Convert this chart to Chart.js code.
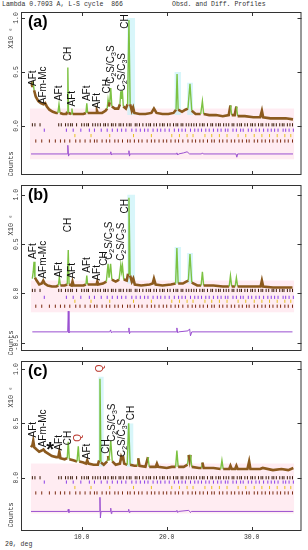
<!DOCTYPE html>
<html>
<head>
<meta charset="utf-8">
<script src="https://cdn.jsdelivr.net/npm/chart.js@4.4.1/dist/chart.umd.min.js"></script>
<style>
  body { margin: 0; background: #fff; width: 308px; height: 550px; position: relative; overflow: hidden; }
  canvas { position: absolute; left: 0; }
  .mono { position: absolute; font-family: "Liberation Mono", monospace; font-size: 6.5px; line-height: 8px; color: #333; white-space: pre; }
</style>
</head>
<body>
<div class="mono" style="left:2px;top:1px">Lambda 0.7093 A, L-S cycle  866</div>
<div class="mono" style="left:172px;top:1px">Obsd. and Diff. Profiles</div>
<div class="mono" style="left:5px;top:541px">2θ, deg</div>
<canvas id="panelA" width="308" height="180" style="top:0px"></canvas>
<canvas id="panelB" width="308" height="176" style="top:180px"></canvas>
<canvas id="panelC" width="308" height="194" style="top:356px"></canvas>
<script>
// 2-theta axis and intensity ticks (x10^6 counts)
const xMin = 2.86, xMax = 35.86;
const xTickVals = [10, 20, 30];
const yTickVals = [-0.5, 0.0, 0.5, 1.0];

// observed / calculated profiles, [2theta, counts x10^6]
const profileA = [[4.04,0.37],[4.15,0.39],[4.27,0.41],[4.4,0.33],[4.6,0.27],[4.9,0.23],[5.2,0.21],[5.5,0.2],[5.7,0.21],[5.9,0.18],[6.2,0.15],[6.6,0.13],[7.0,0.12],[7.2,0.12],[7.33,0.2],[7.45,0.12],[7.8,0.11],[8.2,0.11],[8.3,0.13],[8.37,0.54],[8.45,0.12],[8.75,0.11],[8.85,0.16],[8.95,0.11],[9.4,0.11],[9.8,0.11],[10.2,0.11],[10.5,0.12],[10.6,0.21],[10.7,0.12],[11.2,0.12],[11.7,0.12],[11.8,0.14],[11.9,0.12],[12.4,0.12],[12.8,0.14],[13.0,0.16],[13.1,0.24],[13.2,0.18],[13.3,0.22],[13.42,0.35],[13.55,0.18],[13.9,0.16],[14.3,0.16],[14.5,0.2],[14.6,0.32],[14.68,0.25],[14.78,0.33],[14.9,0.18],[15.2,0.16],[15.4,0.2],[15.56,0.98],[15.7,0.2],[15.9,0.14],[16.05,0.17],[16.2,0.12],[16.8,0.11],[17.5,0.11],[18.2,0.12],[18.5,0.16],[18.8,0.12],[19.5,0.11],[20.2,0.11],[20.8,0.12],[21.1,0.15],[21.22,0.48],[21.35,0.15],[21.8,0.13],[22.2,0.15],[22.5,0.16],[22.74,0.39],[22.95,0.14],[23.4,0.11],[24.0,0.11],[24.2,0.23],[24.35,0.11],[25.0,0.1],[25.8,0.1],[26.6,0.09],[27.3,0.1],[27.5,0.19],[27.65,0.1],[28.0,0.1],[28.2,0.18],[28.35,0.09],[29.2,0.09],[30.2,0.08],[31.0,0.08],[31.2,0.14],[31.35,0.08],[32.2,0.07],[33.2,0.07],[34.0,0.07],[34.86,0.06]];
const profileB = [[4.19,0.15],[4.3,0.22],[4.39,0.32],[4.5,0.16],[4.7,0.13],[5.0,0.09],[5.3,0.1],[5.48,0.13],[5.65,0.1],[6.0,0.08],[6.5,0.07],[7.0,0.07],[7.25,0.08],[7.37,0.16],[7.5,0.08],[8.0,0.08],[8.3,0.09],[8.42,0.44],[8.52,0.09],[8.8,0.08],[8.92,0.12],[9.05,0.08],[9.6,0.08],[10.2,0.08],[10.5,0.09],[10.6,0.18],[10.7,0.09],[11.3,0.09],[11.75,0.09],[11.84,0.12],[11.95,0.09],[12.5,0.1],[12.9,0.12],[13.1,0.3],[13.22,0.16],[13.4,0.3],[13.55,0.14],[14.0,0.12],[14.4,0.14],[14.6,0.29],[14.7,0.22],[14.8,0.28],[14.95,0.14],[15.3,0.13],[15.45,0.2],[15.56,0.97],[15.7,0.18],[15.9,0.12],[16.07,0.15],[16.25,0.09],[17.0,0.08],[18.0,0.09],[18.35,0.1],[18.5,0.15],[18.7,0.09],[19.5,0.08],[20.5,0.09],[21.05,0.1],[21.2,0.46],[21.35,0.1],[21.9,0.1],[22.3,0.12],[22.55,0.13],[22.74,0.4],[22.95,0.11],[23.6,0.08],[24.05,0.08],[24.2,0.22],[24.35,0.08],[25.5,0.08],[26.6,0.07],[27.35,0.07],[27.5,0.18],[27.65,0.07],[28.05,0.07],[28.2,0.16],[28.35,0.07],[29.5,0.07],[30.5,0.07],[31.05,0.07],[31.2,0.13],[31.35,0.07],[32.5,0.06],[33.6,0.06],[34.8,0.06]];
const profileC = [[4.04,0.28],[4.2,0.3],[4.3,0.34],[4.42,0.28],[4.7,0.26],[5.0,0.24],[5.3,0.25],[5.5,0.26],[5.7,0.24],[6.1,0.22],[6.5,0.2],[7.0,0.19],[7.25,0.19],[7.37,0.24],[7.5,0.18],[8.0,0.17],[8.3,0.18],[8.42,0.33],[8.55,0.17],[9.0,0.16],[9.45,0.15],[9.6,0.29],[9.72,0.15],[10.2,0.14],[10.5,0.13],[10.65,0.16],[10.8,0.13],[11.4,0.12],[11.9,0.12],[12.05,0.16],[12.15,0.91],[12.27,0.14],[12.6,0.12],[13.0,0.15],[13.1,0.2],[13.22,0.16],[13.42,0.34],[13.6,0.15],[14.0,0.12],[14.5,0.13],[14.65,0.19],[14.75,0.17],[14.85,0.2],[15.0,0.13],[15.35,0.12],[15.53,0.5],[15.7,0.12],[16.2,0.11],[16.55,0.11],[16.65,0.18],[16.8,0.11],[17.5,0.1],[17.8,0.19],[17.95,0.1],[18.7,0.1],[18.85,0.13],[19.0,0.1],[20.0,0.09],[20.6,0.1],[21.05,0.1],[21.2,0.25],[21.35,0.1],[22.0,0.1],[22.45,0.12],[22.58,0.21],[22.7,0.16],[22.8,0.21],[22.95,0.1],[23.8,0.09],[24.1,0.09],[24.2,0.14],[24.35,0.09],[25.5,0.09],[26.35,0.08],[26.5,0.16],[26.65,0.08],[27.35,0.08],[27.5,0.11],[27.65,0.08],[28.05,0.08],[28.2,0.11],[28.35,0.08],[29.5,0.08],[29.7,0.15],[29.85,0.08],[31.0,0.08],[31.3,0.09],[32.5,0.07],[33.5,0.08],[34.3,0.07],[34.9,0.09]];

// difference curves (obs - calc, offset)
const diffA = [[4.04,-0.26],[8.3,-0.26],[8.37,-0.18],[8.45,-0.28],[8.55,-0.26],[13.35,-0.26],[13.42,-0.24],[13.5,-0.27],[13.6,-0.26],[15.5,-0.26],[15.56,-0.23],[15.62,-0.28],[15.7,-0.26],[21.1,-0.26],[21.2,-0.25],[21.3,-0.27],[21.4,-0.26],[22.0,-0.25],[22.4,-0.24],[22.7,-0.26],[24.1,-0.26],[24.2,-0.25],[24.3,-0.26],[28.15,-0.26],[28.25,-0.29],[28.35,-0.26],[34.86,-0.26]];
const diffB = [[4.19,-0.39],[8.35,-0.39],[8.42,-0.18],[8.5,-0.4],[8.6,-0.39],[13.3,-0.39],[13.4,-0.37],[13.5,-0.4],[13.6,-0.39],[15.5,-0.39],[15.56,-0.35],[15.62,-0.41],[15.7,-0.39],[21.1,-0.39],[21.2,-0.35],[21.3,-0.4],[21.4,-0.39],[22.5,-0.38],[22.7,-0.36],[22.8,-0.43],[22.95,-0.39],[34.8,-0.39]];
const diffC = [[4.04,-0.31],[8.35,-0.31],[8.42,-0.29],[8.5,-0.32],[8.6,-0.31],[12.1,-0.31],[12.15,-0.18],[12.2,-0.37],[12.28,-0.31],[13.35,-0.31],[13.42,-0.28],[13.48,-0.33],[13.55,-0.31],[15.48,-0.31],[15.53,-0.29],[15.6,-0.32],[15.68,-0.31],[21.15,-0.31],[21.2,-0.3],[21.3,-0.32],[21.4,-0.31],[22.6,-0.3],[22.8,-0.32],[22.9,-0.31],[34.9,-0.31]];

// reflection tick positions for the refined phases (2theta)
const reflBlack = [4.2,4.5,5.1,7.3,7.6,8.1,8.4,8.7,8.9,9.4,10.0,10.3,10.6,10.8,11.3,11.6,11.9,12.2,12.6,12.8,13.1,13.5,13.7,14.0,14.4,14.6,14.9,15.3,15.6,15.8,16.3,16.5,16.8,17.2,17.6,17.9,18.1,18.5,18.8,19.2,19.5,19.7,20.1,20.4,20.8,21.1,21.3,21.7,21.9,22.3,22.6,22.9,23.2,23.5,23.9,24.2,24.4,24.8,25.2,25.4,25.8,26.1,26.3,26.7,27.0,27.3,27.7,27.9,28.3,28.6,28.8,29.2,29.5,29.9,30.1,30.4,30.8,31.1,31.3,31.7,32.0,32.4,32.6,32.9,33.3,33.6,33.8,34.2,34.5,34.8];
const reflPurple = [5.6,8.2,9.0,9.9,10.9,11.5,12.3,13.0,13.6,14.2,14.7,15.2,15.9,16.4,16.9,17.4,17.8,18.4,18.9,19.3,19.8,20.3,20.9,21.4,21.8,22.2,22.8,23.3,23.7,24.1,24.6,25.0,25.5,26.0,26.4,26.9,27.2,27.8,28.2,28.7,29.0,29.6,30.0,30.5,30.9,31.4,31.9,32.3,32.7,33.1,33.7,34.0,34.4,34.9];
const reflYellow = [9.2,11.1,13.3,16.1,18.2,20.6,21.5,22.4,23.1,24.5,25.3,26.2,27.1,28.4,29.3,30.3,31.2,32.1,33.0,33.9,34.6];
const reflBrown = [4.6,5.3,6.2,6.9,7.5,8.0,8.6,9.3,9.8,10.4,11.0,11.5,11.8,12.4,12.9,13.3,13.9,14.3,14.8,15.4,15.7,16.2,16.7,17.1,17.7,18.2,18.6,19.1,19.6,20.0,20.5,21.0,21.4,21.9,22.5,23.0,23.4,23.9,24.3,24.8,25.3,25.6,26.2,26.6,27.1,27.6,28.0,28.5,28.9,29.4,29.7,30.3,30.7,31.2,31.6,32.1,32.5,33.0,33.4,33.9,34.3,34.8];

// phase labels: [2theta, counts, text]  (_ = subscript)
const labelsA = [[4.3,0.37,'AFt'],[5.5,0.2,'AFm-Mc'],[7.37,0.23,'AFt'],[8.42,0.6,'CH'],[8.9,0.18,'AFt'],[10.6,0.23,'AFt'],[11.8,0.16,'AFt'],[13.0,0.3,'CH'],[13.45,0.39,'C_2S/C_3S'],[14.8,0.32,'C_2S/C_3S'],[15.1,0.9,'CH']];
const labelsB = [[4.3,0.35,'AFt'],[5.5,0.15,'AFm-Mc'],[7.37,0.16,'AFt'],[8.42,0.62,'CH'],[8.94,0.15,'AFt'],[10.6,0.21,'AFt'],[11.84,0.13,'AFt'],[12.7,0.28,'CH'],[13.2,0.34,'C_2S/C_3S'],[14.6,0.33,'C_2S/C_3S'],[15.1,0.81,'CH']];
const labelsC = [[4.3,0.37,'AFt'],[5.5,0.28,'AFm-Mc'],[7.37,0.25,'AFt'],[8.42,0.3,'CH'],[9.6,0.33,'Q'],[10.65,0.17,'AFt'],[12.15,0.97,'Q'],[12.9,0.22,'CH'],[13.6,0.33,'C_2S/C_3S'],[14.8,0.19,'C_2S/C_3S'],[15.8,0.53,'CH']];

const brown = '#8c5a1e';
const green = '#7cc242';

function steep(c) {
  const dx = c.p1.parsed.x - c.p0.parsed.x;
  return Math.abs((c.p1.parsed.y - c.p0.parsed.y) / dx) > 0.5;
}

function toPts(arr) { return arr.map(p => ({ x: p[0], y: p[1] })); }

function tickRow(pos, yv, color, order) {
  return {
    data: pos.map(v => ({ x: v, y: yv })),
    showLine: false, pointStyle: 'line', pointRotation: 90, pointRadius: 1.6,
    pointBorderColor: color, pointBorderWidth: 1, order: order
  };
}

function band(x0, x1, top, bottom, color, order) {
  return {
    data: [{ x: x0, y: top }, { x: x1, y: top }],
    borderWidth: 0, pointRadius: 0, backgroundColor: color,
    fill: { value: bottom }, order: order
  };
}

function richText(ctx, text, size) {
  let cx = 0;
  for (let i = 0; i < text.length; i++) {
    let ch = text[i], sub = false;
    if (ch === '_') { ch = text[++i]; sub = true; }
    ctx.font = (sub ? size * 0.7 : size) + 'px "Liberation Sans", Arial, sans-serif';
    ctx.fillText(ch, cx, sub ? size * 0.28 : 0);
    cx += ctx.measureText(ch).width;
  }
}

const decor = {
  id: 'decor',
  afterDatasetsDraw(chart, args, o) {
    const { ctx, chartArea: a, scales: { x, y } } = chart;
    ctx.save();
    ctx.strokeStyle = '#333';
    ctx.lineWidth = 1;
    ctx.strokeRect(a.left + 0.5, a.top + 0.5, a.width - 1, a.height - 1);
    ctx.beginPath();
    xTickVals.forEach(v => {
      const px = Math.round(x.getPixelForValue(v)) + 0.5;
      ctx.moveTo(px, a.top); ctx.lineTo(px, a.top + 4);
      ctx.moveTo(px, a.bottom); ctx.lineTo(px, a.bottom - 4);
    });
    const yt = yTickVals.filter(v => v >= y.min && v <= y.max);
    yt.forEach(v => {
      const py = Math.round(y.getPixelForValue(v)) + 0.5;
      ctx.moveTo(a.left, py); ctx.lineTo(a.left + 4, py);
      ctx.moveTo(a.right, py); ctx.lineTo(a.right - 4, py);
    });
    ctx.stroke();

    // rotated y tick labels and axis titles
    ctx.fillStyle = '#333';
    ctx.textAlign = 'center';
    ctx.textBaseline = 'middle';
    ctx.font = '6.5px "Liberation Mono", monospace';
    yt.forEach(v => {
      ctx.save();
      ctx.translate(16, y.getPixelForValue(v));
      ctx.rotate(-Math.PI / 2);
      ctx.fillText(v.toFixed(1), 0, 0);
      ctx.restore();
    });
    ctx.font = '7px "Liberation Mono", monospace';
    [['X10 \u2076', o.xlabY], ['Counts', o.countsY]].forEach(t => {
      ctx.save();
      ctx.translate(11, a.top + t[1]);
      ctx.rotate(-Math.PI / 2);
      ctx.fillText(t[0], 0, 0);
      ctx.restore();
    });

    // phase labels
    ctx.textAlign = 'left';
    o.labels.forEach(l => {
      ctx.save();
      ctx.fillStyle = l[2] === 'Q' ? '#b8342a' : '#111';
      ctx.translate(x.getPixelForValue(l[0]), y.getPixelForValue(l[1]));
      ctx.rotate(-Math.PI / 2);
      richText(ctx, l[2], 10);
      ctx.restore();
    });
    if (o.star) {
      ctx.fillStyle = '#111';
      ctx.textAlign = 'center';
      ctx.font = 'bold 20px "Liberation Sans", Arial, sans-serif';
      ctx.fillText('*', x.getPixelForValue(o.star[0]), y.getPixelForValue(o.star[1]) + 5);
    }

    // panel letter
    ctx.fillStyle = '#000';
    ctx.textAlign = 'left';
    ctx.textBaseline = 'top';
    ctx.font = 'bold 16px "Liberation Sans", Arial, sans-serif';
    ctx.fillText(o.letter, a.left + 7, a.top + 3);
    ctx.restore();
  }
};

function makePanel(id, cfg) {
  const rows = cfg.rows;
  const datasets = [
    {
      data: toPts(cfg.profile), pointRadius: 0, tension: 0, order: 1,
      borderColor: brown, borderWidth: 2.6,
      segment: {
        borderColor: c => steep(c) ? green : brown,
        borderWidth: c => steep(c) ? 1.4 : 2.6
      }
    },
    { data: toPts(cfg.diff), pointRadius: 0, borderColor: '#9a4fd0', borderWidth: 1, order: 2 },
    tickRow(reflBlack, rows[0], '#3a1a0a', 3),
    tickRow(reflPurple, rows[1], '#8a3ee8', 3),
    tickRow(reflYellow, rows[2], '#e8c020', 3),
    tickRow(reflBrown, rows[3], '#7a2a10', 3),
    band(cfg.pink[0], cfg.pink[1], cfg.pink[2], cfg.pink[3], 'rgba(255,212,226,0.45)', 10)
  ];
  cfg.cyan.forEach(c => datasets.push(band(c[0], c[1], c[2], 0.1, 'rgba(190,240,246,0.6)', 9)));

  new Chart(document.getElementById(id), {
    type: 'line',
    data: { datasets: datasets },
    options: {
      responsive: false,
      animation: false,
      layout: { padding: { left: 21, right: 6.5, top: cfg.padTop, bottom: cfg.padBottom } },
      plugins: {
        legend: { display: false },
        tooltip: { enabled: false },
        decor: cfg
      },
      scales: {
        x: {
          type: 'linear', min: xMin, max: xMax,
          afterBuildTicks: s => { s.ticks = xTickVals.map(v => ({ value: v })); },
          afterFit: s => { s.height = cfg.showX ? 12 : 0; },
          grid: { display: false, drawTicks: false },
          border: { display: false },
          ticks: {
            display: cfg.showX, padding: 2, maxRotation: 0, color: '#333',
            font: { family: 'Liberation Mono', size: 6.5 },
            callback: v => v.toFixed(1)
          }
        },
        y: {
          min: cfg.yMin, max: cfg.yMax,
          afterFit: s => { s.width = 0; },
          grid: { display: false, drawTicks: false },
          border: { display: false },
          ticks: { display: false }
        }
      }
    },
    plugins: [decor]
  });
}

makePanel('panelA', {
  profile: profileA, diff: diffA, labels: labelsA, letter: '(a)',
  rows: [0.01, -0.04, -0.09, -0.14],
  pink: [3.9, 35.0, 0.16, -0.31],
  cyan: [[15.35, 16.3, 1.0], [20.9, 21.7, 0.5], [22.4, 23.1, 0.4]],
  yMin: -0.455, yMax: 1.055, padTop: 12, padBottom: 2, showX: false,
  xlabY: 26, countsY: 152
});
makePanel('panelB', {
  profile: profileB, diff: diffB, labels: labelsB, letter: '(b)',
  rows: [0.03, -0.04, -0.08, -0.13],
  pink: [4.0, 35.0, 0.13, -0.19],
  cyan: [[15.35, 16.3, 1.0], [20.9, 21.7, 0.47], [22.4, 23.1, 0.41]],
  yMin: -0.584, yMax: 1.099, padTop: 2, padBottom: 4, showX: false,
  xlabY: 40, countsY: 158
});
makePanel('panelC', {
  profile: profileC, diff: diffC, labels: labelsC, letter: '(c)', star: [6.3, 0.3],
  rows: [0.0, -0.04, -0.09, -0.14],
  pink: [4.0, 35.0, 0.13, -0.33],
  cyan: [[11.95, 12.6, 0.93], [15.3, 16.1, 0.5]],
  yMin: -0.49, yMax: 1.074, padTop: 5, padBottom: 7, showX: true,
  xlabY: 36, countsY: 154
});
</script>
</body>
</html>
